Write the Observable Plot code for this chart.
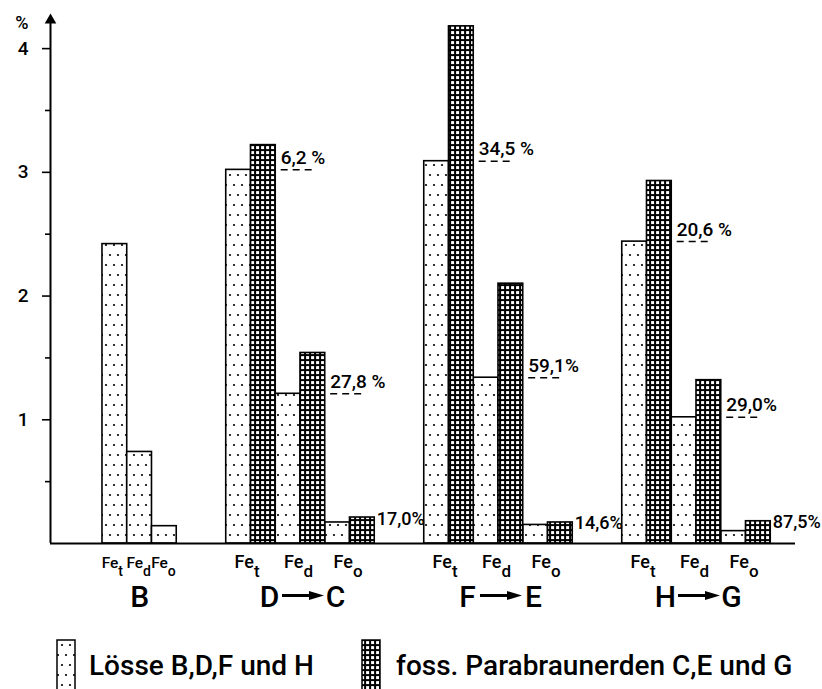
<!DOCTYPE html>
<html>
<head>
<meta charset="utf-8">
<script src="https://cdn.jsdelivr.net/npm/d3@7"></script>
<script src="https://cdn.jsdelivr.net/npm/@observablehq/plot@0.6"></script>
<style>
  body { margin: 0; background: #fff; font-family: Roboto, sans-serif; }
  #chart svg, #legend svg { display: block; }
</style>
</head>
<body>
<svg width="0" height="0" style="position:absolute">
  <defs>
    <pattern id="dots" patternUnits="userSpaceOnUse" width="8" height="20">
      <rect width="8" height="20" fill="white"></rect>
      <circle cx="2" cy="5" r="1.1" fill="black"></circle>
      <circle cx="6" cy="15" r="1.1" fill="black"></circle>
    </pattern>
    <pattern id="grid" patternUnits="userSpaceOnUse" width="5" height="5">
      <rect width="5" height="5" fill="black"></rect>
      <rect x="1.1" y="1.1" width="3" height="3" fill="white"></rect>
    </pattern>
  </defs>
</svg>
<div id="chart"></div>
<div id="legend"></div>
<script>
// ---- data ----
const groups = ["B", "D→C", "F→E", "H→G"];
const fractions = ["t", "d", "o"];           // Fe_t, Fe_d, Fe_o
const loessB = [2.42, 0.74, 0.14];
const loessD = [3.02, 1.21, 0.17];
const loessF = [3.09, 1.34, 0.15];
const loessH = [2.44, 1.02, 0.10];
const fossC  = [3.22, 1.54, 0.21];
const fossE  = [4.18, 2.10, 0.17];
const fossG  = [2.93, 1.32, 0.18];
const changeC = ["6,2 %", "27,8 %", "17,0%"];
const changeE = ["34,5 %", "59,1%", "14,6%"];
const changeG = ["20,6 %", "29,0%", "87,5%"];
const yTicks = [1, 2, 3, 4];
const yMinorTicks = [0.5, 1.5, 2.5, 3.5];
const yUnit = "%";
const legendLabels = ["Lösse B,D,F und H", "foss. Parabraunerden C,E und G"];

// ---- build tables ----
const series = [
  {from: "B", to: null, loess: loessB, foss: null, change: null},
  {from: "D", to: "C", loess: loessD, foss: fossC, change: changeC},
  {from: "F", to: "E", loess: loessF, foss: fossE, change: changeE},
  {from: "H", to: "G", loess: loessH, foss: fossG, change: changeG}
];
const padLeft = 2.1, groupGap = 2, padRight = 1;
let cursor = padLeft;
const loessBars = [], fossBars = [], feLabels = [], changeLabels = [], groupLabels = [];
series.forEach((s, gi) => {
  const start = cursor;
  fractions.forEach((f, i) => {
    const width = s.foss ? 2 : 1;
    loessBars.push({x1: cursor, x2: cursor + 1, value: s.loess[i]});
    if (s.foss) {
      fossBars.push({x1: cursor + 1, x2: cursor + 2, value: s.foss[i]});
      changeLabels.push({x: cursor + 2, loess: s.loess[i], foss: s.foss[i], text: s.change[i], small: i === 2});
    }
    feLabels.push({x: cursor + width / 2, sub: f, narrow: !s.foss});
    cursor += width;
  });
  groupLabels.push({x: (start + cursor) / 2, name: groups[gi], from: s.from, to: s.to});
  cursor += groupGap;
});
const xMax = cursor - groupGap + padRight;
const yTop = 4.3, axisTop = 4.23;

const arrowSymbol = {
  draw(ctx) {
    ctx.moveTo(-21, -1.5); ctx.lineTo(6, -1.5); ctx.lineTo(6, -4.5); ctx.lineTo(21, 0);
    ctx.lineTo(6, 4.5); ctx.lineTo(6, 1.5); ctx.lineTo(-21, 1.5); ctx.closePath();
  }
};

const font = "Roboto, sans-serif";
const fw = 500;
const wideFe = feLabels.filter(d => !d.narrow);
const narrowFe = feLabels.filter(d => d.narrow);
const chart = Plot.plot({
  width: 822, height: 630,
  marginLeft: 50, marginRight: 27, marginTop: 11, marginBottom: 87,
  style: {fontFamily: font, color: "black", background: "white", overflow: "visible"},
  x: {type: "linear", domain: [0, xMax], axis: null},
  y: {domain: [0, yTop], axis: null},
  marks: [
    Plot.rectY(loessBars, {x1: "x1", x2: "x2", y: "value", fill: "url(#dots)", stroke: "black", strokeWidth: 1.6}),
    Plot.rectY(fossBars, {x1: "x1", x2: "x2", y: "value", fill: "url(#grid)", stroke: "black", strokeWidth: 1.6}),
    Plot.ruleY([0], {x1: 0, x2: xMax, stroke: "black", strokeWidth: 2}),
    Plot.ruleX([0], {y1: 0, y2: axisTop, stroke: "black", strokeWidth: 2}),
    Plot.dot([axisTop], {x: () => 0, y: d => d, symbol: "triangle", r: 4.3, fill: "black", stroke: "none"}),
    Plot.axisY(yTicks, {tickSize: 8, tickPadding: 14, fontSize: 19, fontWeight: fw, strokeWidth: 1.6, label: null, tickFormat: d => String(d)}),
    Plot.axisY(yMinorTicks, {tickSize: 5, fill: "none", strokeWidth: 1.6, label: null}),
    Plot.text([yUnit], {frameAnchor: "top-left", dx: -22, dy: 17, textAnchor: "end", lineAnchor: "bottom", fontSize: 18, fontWeight: fw}),
    // dashed reference lines (loess level next to the fossil bar)
    Plot.ruleY(changeLabels.filter(d => !d.small), {x1: d => d.x + 0.22, x2: d => d.x + 1.5, y: "loess", stroke: "black", strokeWidth: 1.5, strokeDasharray: "7,5"}),
    Plot.text(changeLabels.filter(d => !d.small), {x: "x", y: "loess", text: "text", dx: 5, dy: -6, textAnchor: "start", lineAnchor: "bottom", fontSize: 19, fontWeight: fw}),
    Plot.text(changeLabels.filter(d => d.small), {x: "x", y: "foss", text: "text", dx: 2, dy: 7, textAnchor: "start", lineAnchor: "bottom", fontSize: 18, fontWeight: fw}),
    // Fe labels (paired bars)
    Plot.text(wideFe, {x: "x", text: () => "Fe", frameAnchor: "bottom", textAnchor: "end", lineAnchor: "bottom", dx: 3, dy: 24, fontSize: 18, fontWeight: fw}),
    Plot.text(wideFe, {x: "x", text: "sub", frameAnchor: "bottom", textAnchor: "start", lineAnchor: "bottom", dx: 3, dy: 33, fontSize: 17, fontWeight: fw}),
    // Fe labels (single bars of group B, tightly packed)
    Plot.text(narrowFe, {x: "x", text: () => "Fe", frameAnchor: "bottom", textAnchor: "end", lineAnchor: "bottom", dx: 3.5, dy: 24, fontSize: 15.5, fontWeight: fw}),
    Plot.text(narrowFe, {x: "x", text: "sub", frameAnchor: "bottom", textAnchor: "start", lineAnchor: "bottom", dx: 3.5, dy: 32, fontSize: 14, fontWeight: fw}),
    // group labels
    Plot.text(groupLabels.filter(d => !d.to), {x: "x", text: "from", frameAnchor: "bottom", lineAnchor: "bottom", dy: 63, fontSize: 30, fontWeight: fw}),
    Plot.text(groupLabels.filter(d => d.to), {x: "x", text: "from", frameAnchor: "bottom", lineAnchor: "bottom", dx: -31, dy: 63, fontSize: 30, fontWeight: fw}),
    Plot.text(groupLabels.filter(d => d.to), {x: "x", text: "to", frameAnchor: "bottom", lineAnchor: "bottom", dx: 35, dy: 63, fontSize: 30, fontWeight: fw}),
    Plot.dot(groupLabels.filter(d => d.to), {x: "x", frameAnchor: "bottom", dx: 2.5, dy: 52, r: 1, symbol: arrowSymbol, fill: "black", stroke: "none"})
  ]
});
document.getElementById("chart").appendChild(chart);

// ---- legend below the plot ----
const lg = d3.select("#legend").append("svg").attr("width", 822).attr("height", 59)
  .style("font-family", font);
const legendItems = [
  {fill: "url(#dots)", x: 57, tx: 89, label: legendLabels[0]},
  {fill: "url(#grid)", x: 362, tx: 396, label: legendLabels[1]}
];
legendItems.forEach(it => {
  lg.append("rect").attr("x", it.x).attr("y", 10).attr("width", 18).attr("height", 60)
    .attr("fill", it.fill).attr("stroke", "black").attr("stroke-width", 1.5);
  lg.append("text").attr("x", it.tx).attr("y", 45).attr("font-size", 28).attr("font-weight", fw)
    .attr("fill", "black").text(it.label);
});
</script>
</body>
</html>
